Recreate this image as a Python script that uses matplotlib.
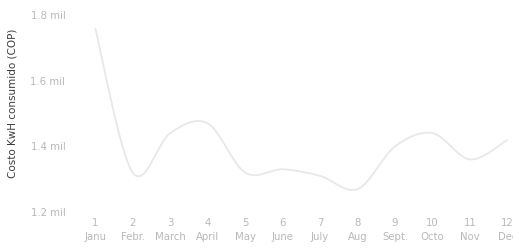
import numpy as np
import matplotlib
matplotlib.use("Agg")
import matplotlib.pyplot as plt
from matplotlib.path import Path
from matplotlib.patches import PathPatch

# datos
meses_num = [1, 2, 3, 4, 5, 6, 7, 8, 9, 10, 11, 12]
meses_nombre = ["Janu", "Febr.", "March", "April", "May", "June",
                "July", "Aug", "Sept.", "Octo", "Nov", "Dec"]
costo = [1.76, 1.32, 1.44, 1.47, 1.32, 1.33, 1.31, 1.27, 1.40, 1.44, 1.36, 1.42]

y_ticks = [1.2, 1.4, 1.6, 1.8]
y_tick_labels = ["1.2 mil", "1.4 mil", "1.6 mil", "1.8 mil"]


def curva_suave(xs, ys):
    # Catmull-Rom pasado a bezier cubico para que matplotlib dibuje la curva
    xs = np.asarray(xs, float)
    ys = np.asarray(ys, float)
    verts = [(xs[0], ys[0])]
    codes = [Path.MOVETO]
    n = len(xs)
    for i in range(n - 1):
        x0, y0 = (xs[i - 1], ys[i - 1]) if i > 0 else (xs[i], ys[i])
        x1, y1 = xs[i], ys[i]
        x2, y2 = xs[i + 1], ys[i + 1]
        x3, y3 = (xs[i + 2], ys[i + 2]) if i + 2 < n else (xs[i + 1], ys[i + 1])
        c1 = (x1 + (x2 - x0) / 6, y1 + (y2 - y0) / 6)
        c2 = (x2 - (x3 - x1) / 6, y2 - (y3 - y1) / 6)
        verts += [c1, c2, (x2, y2)]
        codes += [Path.CURVE4] * 3
    return Path(verts, codes)


fig = plt.figure(figsize=(5.13, 2.48), dpi=100)
# el grafico original esta recortado por la derecha
ax = fig.add_axes([0.149, 0.145, 0.877, 0.795])

ax.add_patch(PathPatch(curva_suave(meses_num, costo), facecolor="none",
                       edgecolor="#e8e8e8", lw=1.3))

ax.set_xlim(0.5, 12.5)
ax.set_ylim(1.2, 1.8)

ax.set_yticks(y_ticks)
ax.set_yticklabels(y_tick_labels)
ax.set_xticks(meses_num)
ax.set_xticklabels([f"{n}\n{m}" for n, m in zip(meses_num, meses_nombre)],
                   linespacing=1.6)

ax.tick_params(axis="both", length=0, labelsize=7.3, labelcolor="#b8b8b8")
ax.tick_params(axis="y", pad=8)
ax.tick_params(axis="x", pad=4)

for s in ax.spines.values():
    s.set_visible(False)

fig.text(0.024, 0.585, "Costo KwH consumido (COP)", rotation=90,
         ha="center", va="center", fontsize=7.5, color="#3c3c3c")

fig.savefig("out.png", dpi=100)
